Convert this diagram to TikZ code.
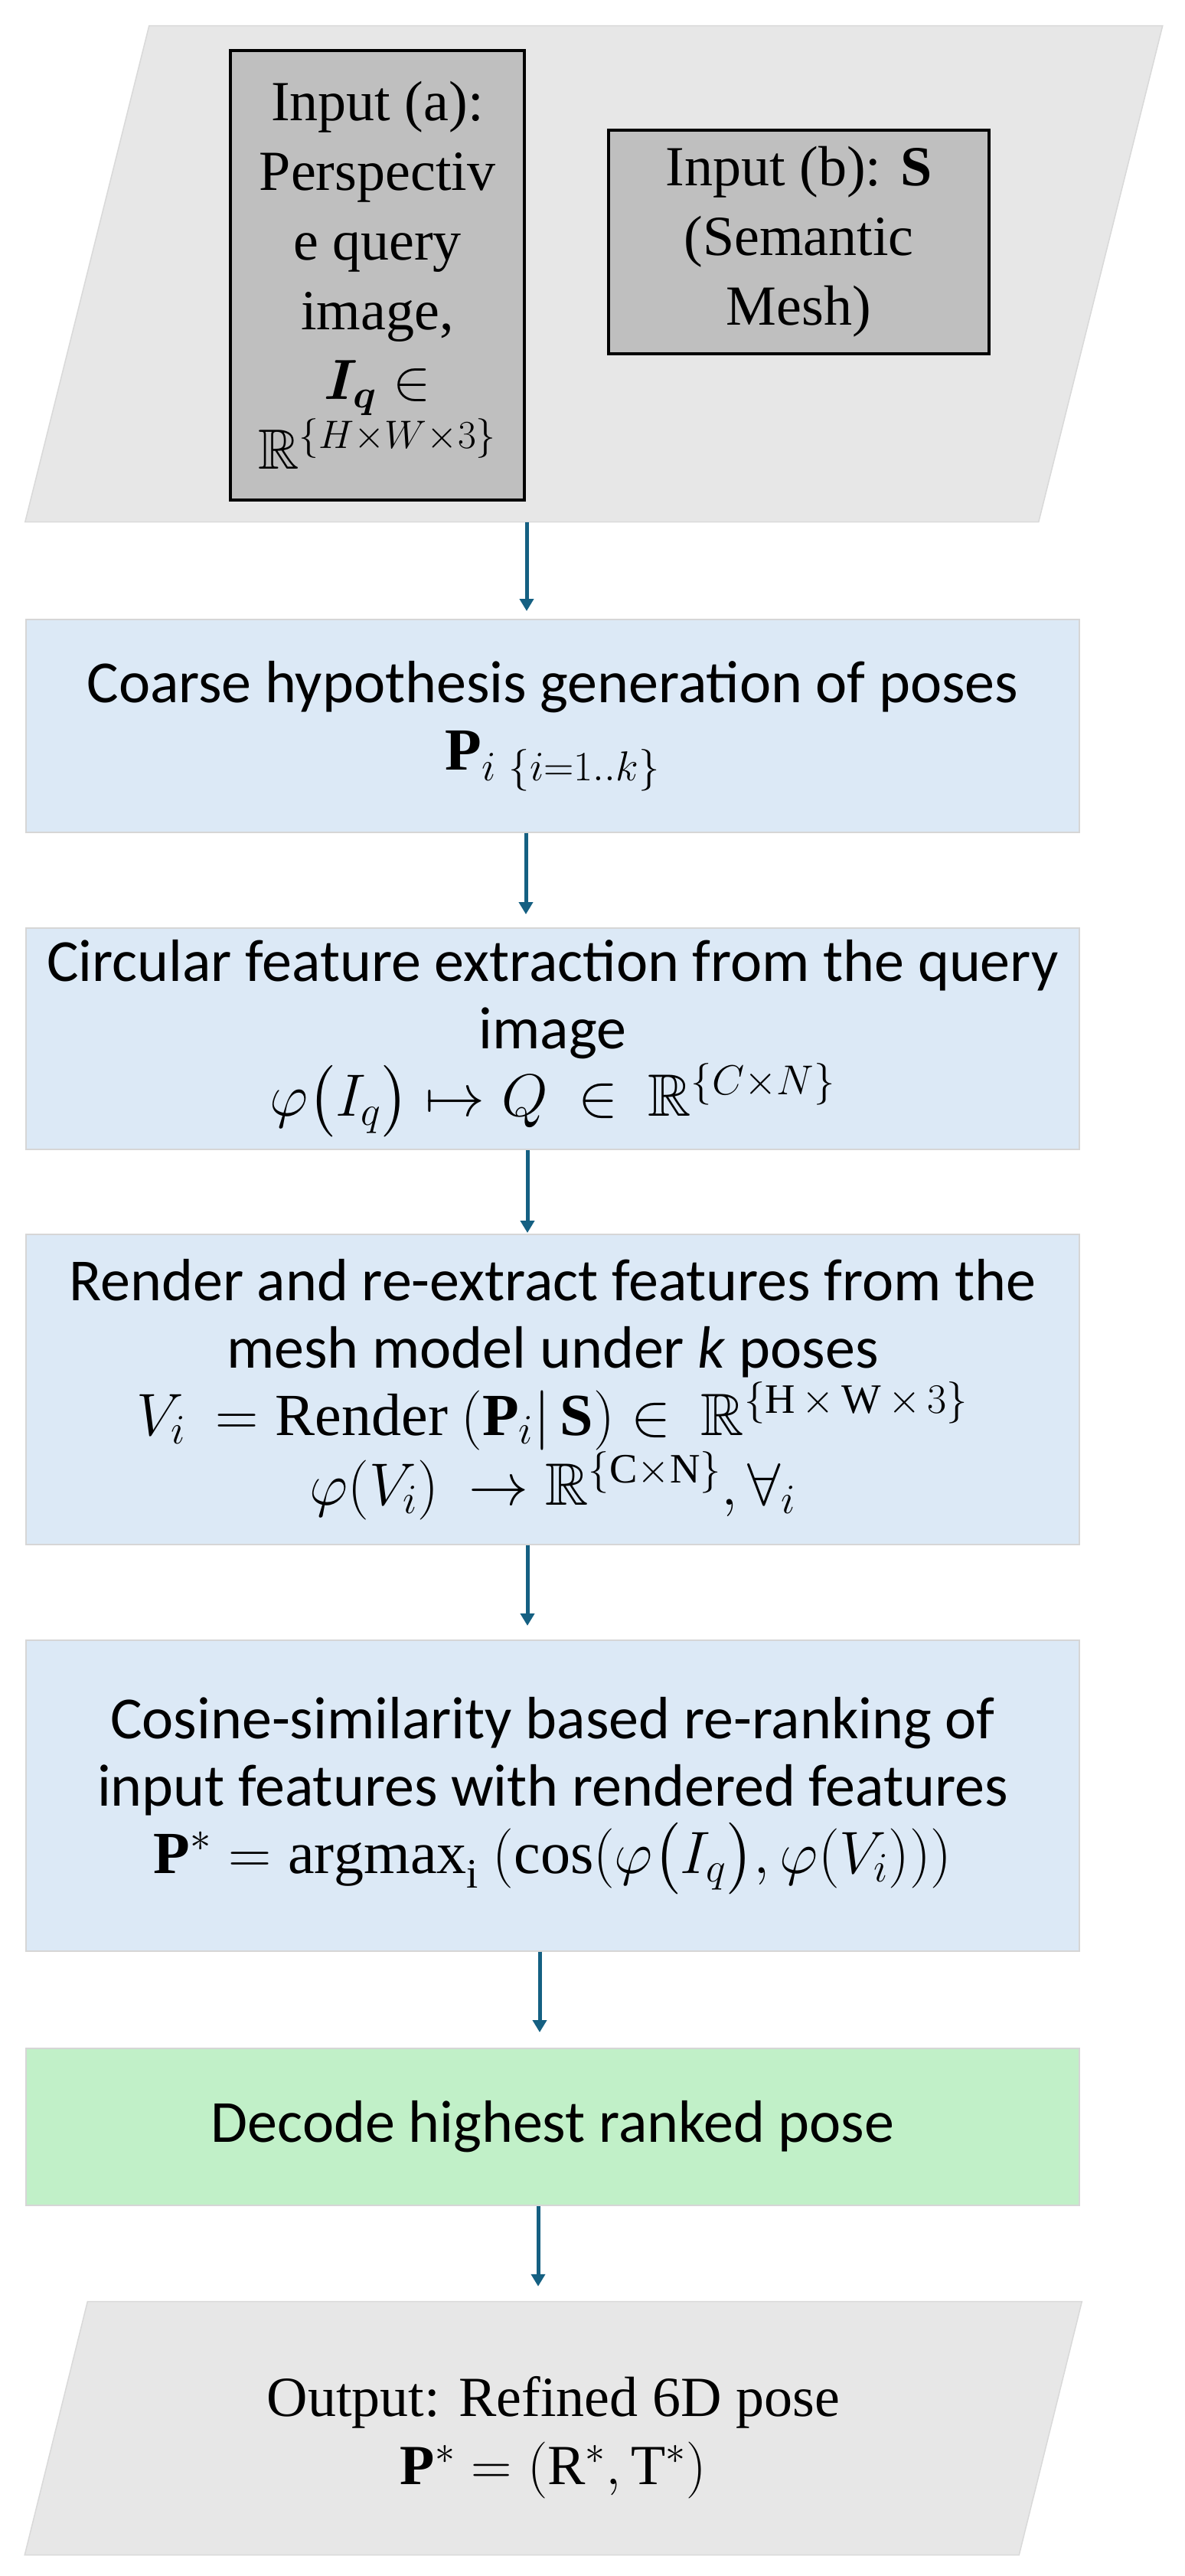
\RequirePackage{fix-cm}
\documentclass[tikz,border=0pt]{standalone}
\usepackage{amsmath,amssymb}
\usepackage{bm}
\usepackage{fontspec}
\setmainfont{Liberation Serif}
\setsansfont{Carlito}
\usepackage{tikz}
\usetikzlibrary{arrows.meta, positioning}

\definecolor{slabgray}{HTML}{E7E7E7}
\definecolor{slabedge}{HTML}{D9D9D9}
\definecolor{boxgray}{HTML}{BFBFBF}
\definecolor{stageblue}{HTML}{DCE9F6}
\definecolor{stagegreen}{HTML}{C1F0C8}
\definecolor{stageedge}{HTML}{D6D6D6}
\definecolor{arrowblue}{HTML}{156082}

\begin{document}
\begin{tikzpicture}[
    node distance=62pt,
    slab/.style={draw=slabedge, fill=slabgray, line width=0.75pt, inner sep=0pt},
    inputbox/.style={draw=black, fill=boxgray, line width=2pt, inner sep=0pt, align=center, font=\fontsize{37pt}{45.5pt}\selectfont},
    stage/.style={draw=stageedge, fill=#1, line width=1pt, minimum width=688pt, inner sep=0pt, align=center, font=\sffamily\fontsize{39pt}{44pt}\selectfont},
    arrow/.style={-{Triangle[width=9pt,length=8pt]}, line width=2.5pt, color=arrowblue}
]
\useasboundingbox (0,0) rectangle (774pt,-1682pt);

\node[slab, xslant=0.25, minimum width=662pt, minimum height=324pt] (inp) at (387.9pt,-178.75pt) {};
\node[inputbox, minimum width=192pt, minimum height=293.5pt] (inA) at (246.5pt,-179.75pt) {Input (a):\\Perspectiv\\e query\\image,\\$\bm{I_q}\in$\\$\mathbb{R}^{\{H\times W\times 3\}}$};
\node[inputbox, minimum width=248.5pt, minimum height=146pt] (inB) at (521.75pt,-158pt) {Input (b): $\mathbf{S}$\\(Semantic\\Mesh)};

\node[stage=stageblue, minimum height=139pt] (coarse) at (361pt,-474pt) {Coarse hypothesis generation of poses\\$\mathbf{P}_{i\ \{i=1..k\}}$};
\node[stage=stageblue, minimum height=144.5pt, below=61.5pt of coarse] (circ) {Circular feature extraction from the query\\image\\$\varphi\big(I_q\big)\mapsto Q\ \in\ \mathbb{R}^{\{C\times N\}}$};
\node[stage=stageblue, minimum height=202.25pt, below=54.5pt of circ] (render) {Render and re-extract features from the\\mesh model under \textit{k} poses\\$V_i\ = \mathrm{Render}\ (\mathbf{P}_i|\,\mathbf{S})\in\ \mathbb{R}^{\{\mathrm{H}\,\times\,\mathrm{W}\,\times\,3\}}$\\$\varphi(V_i)\ \rightarrow\mathbb{R}^{\{\mathrm{C}\times\mathrm{N}\}},\forall_i$};
\node[stage=stageblue, minimum height=202.75pt, below=61.75pt of render] (cosine) {Cosine-similarity based re-ranking of\\input features with rendered features\\$\mathbf{P}^*=\mathrm{argmax}_{\mathrm{i}}\ (\cos(\varphi\big(I_q\big),\varphi(V_i)))$};
\node[stage=stagegreen, minimum height=102.5pt, below=62.75pt of cosine] (decode) {Decode highest ranked pose};

\node[slab, xslant=0.248, minimum width=649.5pt, minimum height=165.5pt] (out) at (361.4pt,-1585.5pt) {};
\node[align=center, font=\fontsize{37pt}{44.5pt}\selectfont, yshift=-6pt] (outtext) at (out.center) {Output: Refined 6D pose\\$\mathbf{P}^*=(\mathrm{R}^*,\mathrm{T}^*)$};

\draw[arrow, shorten >=5pt] ([xshift=-17pt]coarse.north |- inp.south) -- ([xshift=-17pt]coarse.north);
\draw[arrow, shorten >=8.5pt] ([xshift=-17.5pt]coarse.south) -- ([xshift=-17.5pt]circ.north);
\draw[arrow, shorten >=0.5pt] ([xshift=-16.5pt]circ.south) -- ([xshift=-16.5pt]render.north);
\draw[arrow, shorten >=9pt] ([xshift=-16.5pt]render.south) -- ([xshift=-16.5pt]cosine.north);
\draw[arrow, shorten >=10pt] ([xshift=-8.5pt]cosine.south) -- ([xshift=-8.5pt]decode.north);
\draw[arrow, shorten >=9.5pt] ([xshift=-9.5pt]decode.south) -- ([xshift=-9.5pt]decode.south |- out.north);

\end{tikzpicture}
\end{document}
